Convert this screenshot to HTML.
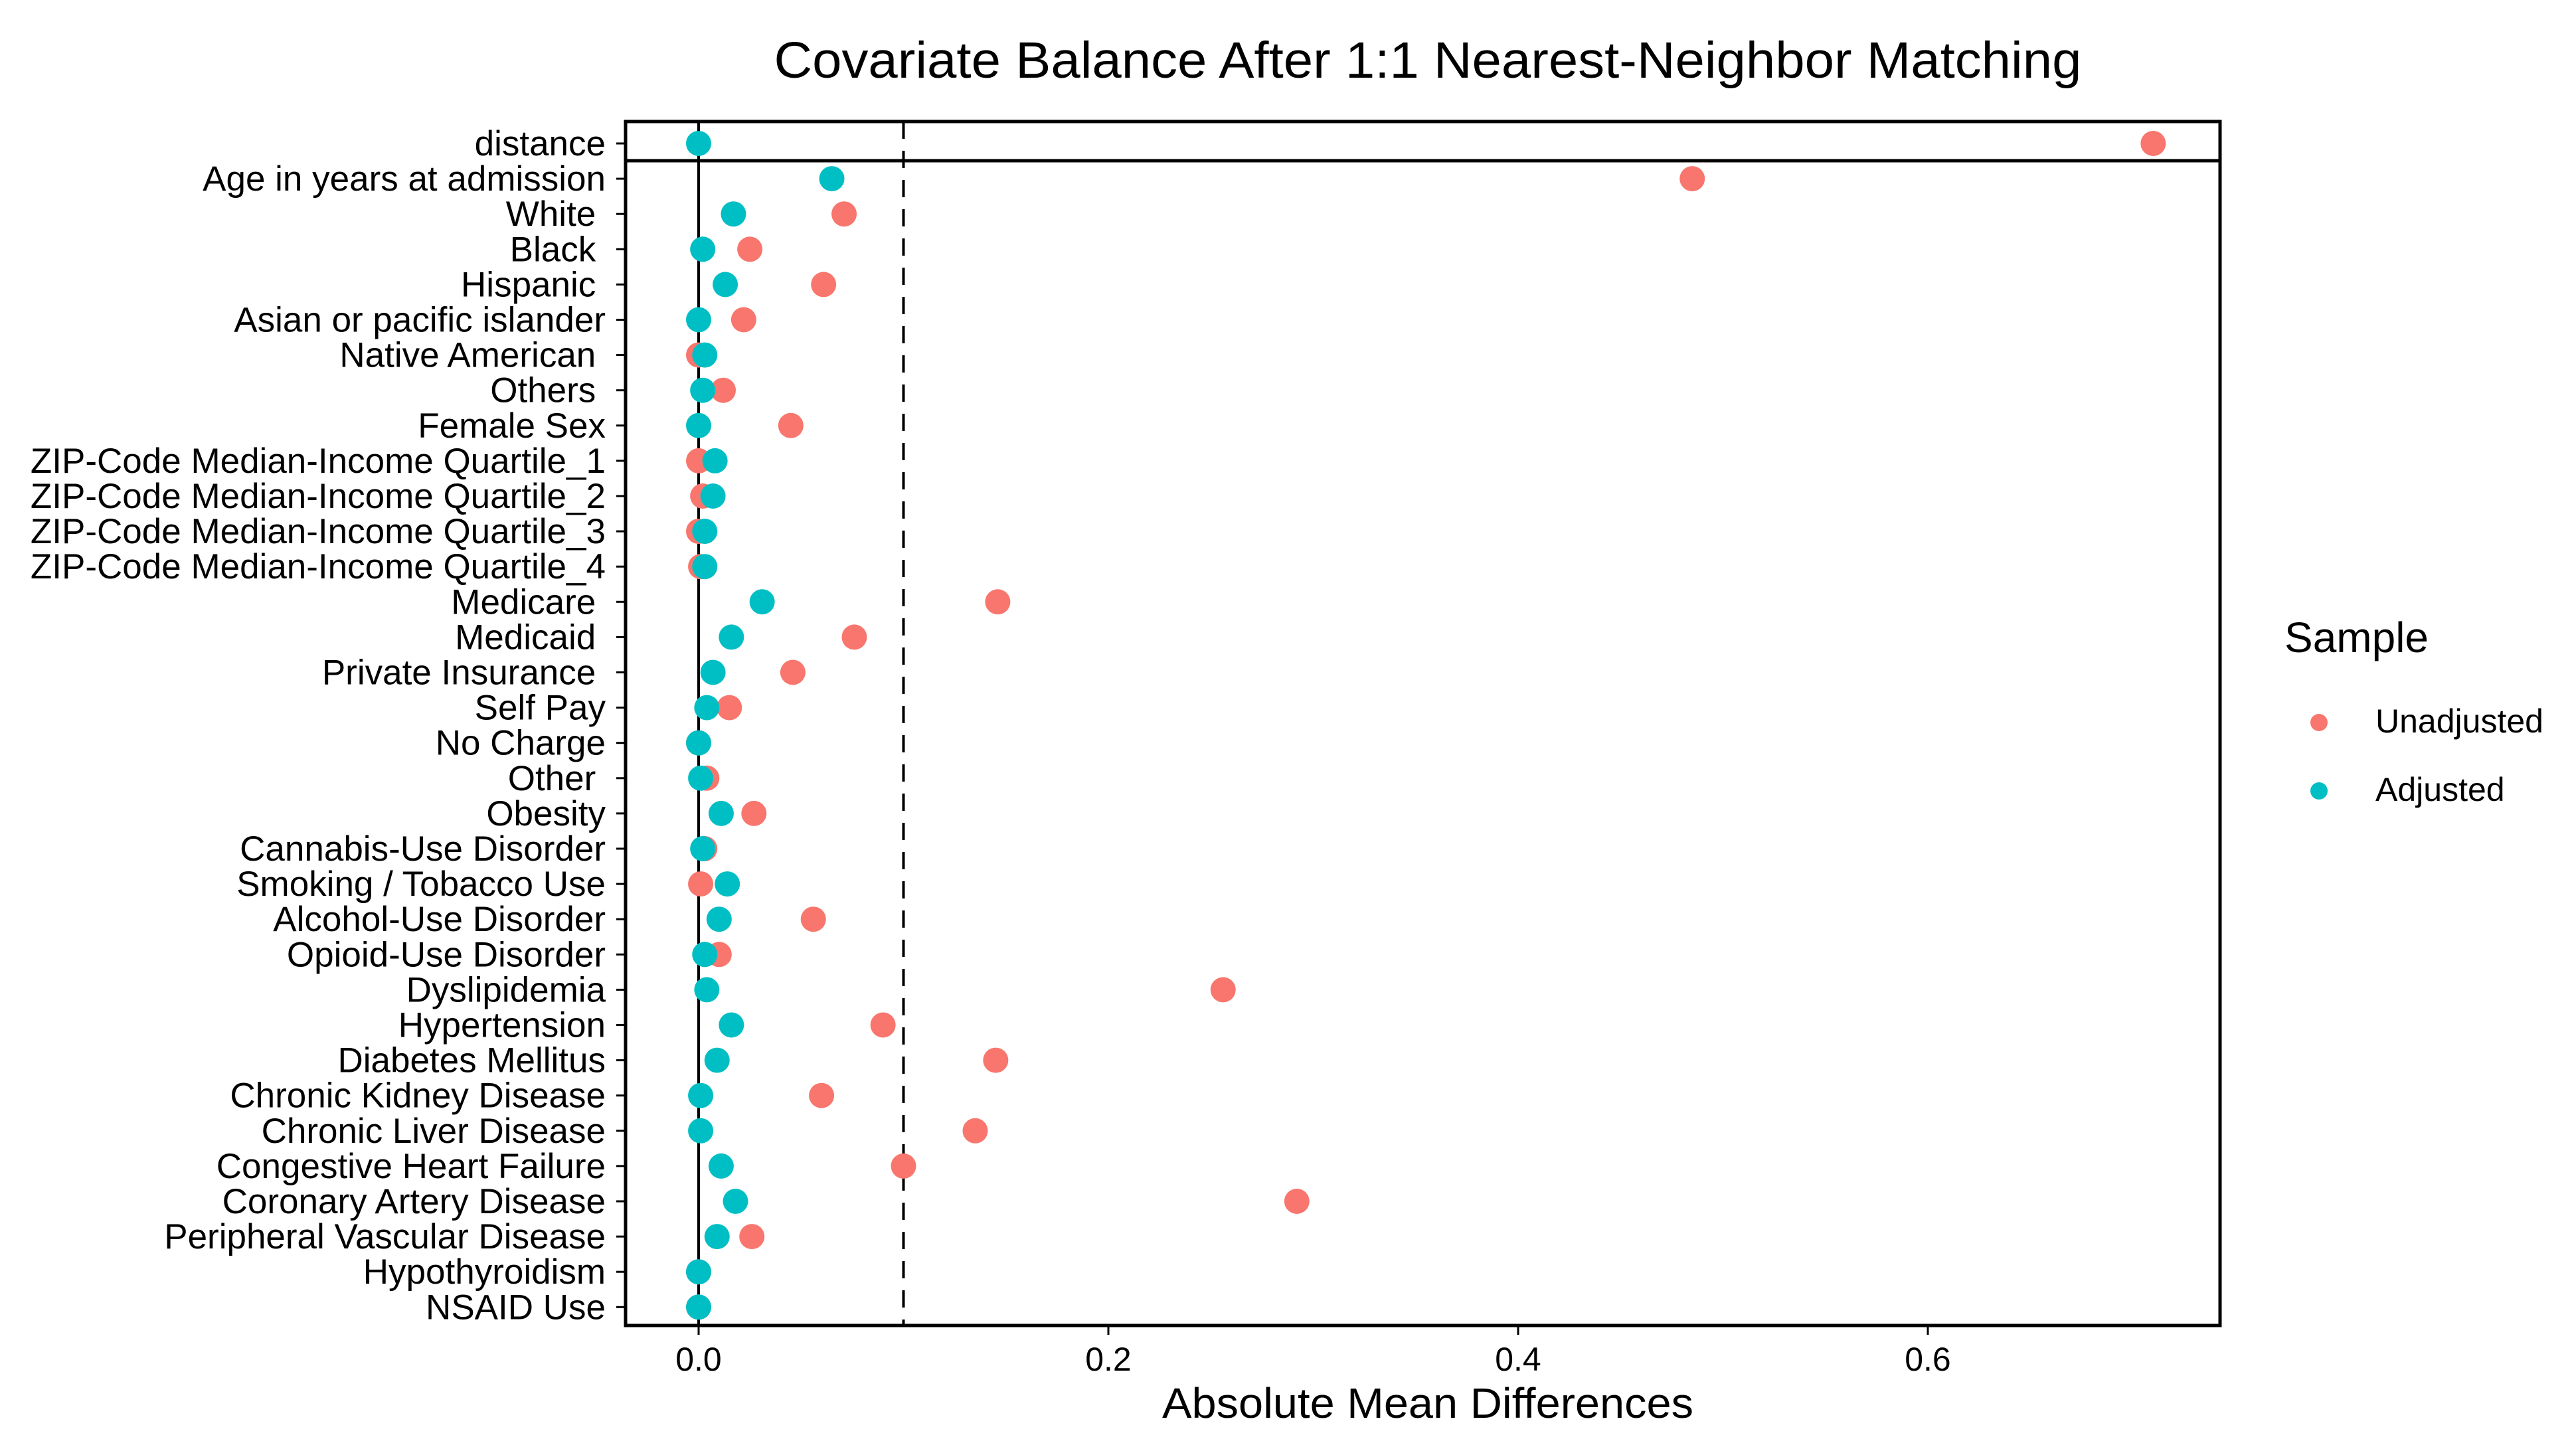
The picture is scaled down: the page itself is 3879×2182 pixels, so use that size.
<!DOCTYPE html>
<html><head><meta charset="utf-8"><style>
html,body{margin:0;padding:0;background:#fff;}
svg{display:block;font-family:"Liberation Sans",Arial,sans-serif;}
</style></head><body>
<svg id="chart" width="3879" height="2182" viewBox="0 0 3879 2182" xmlns="http://www.w3.org/2000/svg">
<rect x="0" y="0" width="3879" height="2182" fill="#fff"/>
<text x="2150" y="117" text-anchor="middle" font-size="77" textLength="1969" lengthAdjust="spacingAndGlyphs" fill="#000">Covariate Balance After 1:1 Nearest-Neighbor Matching</text>
<g id="plot"></g>
<text x="2150" y="2135" text-anchor="middle" font-size="64" textLength="800" lengthAdjust="spacingAndGlyphs" fill="#000">Absolute Mean Differences</text>
<g>
<text x="3440" y="982" font-size="64" fill="#000">Sample</text>
<circle cx="3492" cy="1088" r="13" fill="#F8766D"/>
<text x="3577" y="1103" font-size="50" fill="#000">Unadjusted</text>
<circle cx="3492" cy="1191" r="13" fill="#00BFC4"/>
<text x="3577" y="1206" font-size="50" fill="#000">Adjusted</text>
</g>
</svg>
<script>
const categories = ["distance","Age in years at admission","White ","Black ","Hispanic ","Asian or pacific islander","Native American ","Others ","Female Sex","ZIP-Code Median-Income Quartile_1","ZIP-Code Median-Income Quartile_2","ZIP-Code Median-Income Quartile_3","ZIP-Code Median-Income Quartile_4","Medicare ","Medicaid ","Private Insurance ","Self Pay","No Charge","Other ","Obesity","Cannabis-Use Disorder","Smoking / Tobacco Use","Alcohol-Use Disorder","Opioid-Use Disorder","Dyslipidemia","Hypertension","Diabetes Mellitus","Chronic Kidney Disease","Chronic Liver Disease","Congestive Heart Failure","Coronary Artery Disease","Peripheral Vascular Disease","Hypothyroidism","NSAID Use"];
const unadjusted = [0.710,0.485,0.071,0.025,0.061,0.022,0.000,0.012,0.045,0.000,0.002,0.000,0.001,0.146,0.076,0.046,0.015,0.000,0.004,0.027,0.003,0.001,0.056,0.010,0.256,0.090,0.145,0.060,0.135,0.100,0.292,0.026,0.000,0.000];
const adjusted = [0.000,0.065,0.017,0.002,0.013,0.000,0.003,0.002,0.000,0.008,0.007,0.003,0.003,0.031,0.016,0.007,0.004,0.000,0.001,0.011,0.002,0.014,0.010,0.003,0.004,0.016,0.009,0.001,0.001,0.011,0.018,0.009,0.000,0.000];
const xTicks = [0, 0.2, 0.4, 0.6];
const xTickLabels = ["0.0","0.2","0.4","0.6"];
const threshold = 0.1;

const NS = "http://www.w3.org/2000/svg";
const L = 942, R = 3343, T = 183, B = 1996, SEP = 242;
const x0 = 1052, perUnit = 3085;
const xs = v => x0 + v * perUnit;
const yTop = 216, step = 53.1;
const ys = i => yTop + i * step;
const g = document.getElementById('plot');
function mk(tag, attrs) { const e = document.createElementNS(NS, tag); for (const k in attrs) e.setAttribute(k, attrs[k]); g.appendChild(e); return e; }

let e;
e = mk('line', {x1: xs(0), x2: xs(0), y1: T, y2: B, stroke: '#000', 'stroke-width': 4});


e = mk('line', {x1: xs(threshold), x2: xs(threshold), y1: T, y2: B, stroke: '#000', 'stroke-width': 4, 'stroke-dasharray': '26 18'});



categories.forEach((c, i) => {
  const t = mk('text', {x: 912, y: ys(i) + 18, 'text-anchor': 'end', 'font-size': 53, fill: '#000', 'xml:space': 'preserve', style: 'white-space:pre'});
  t.textContent = c;
  
  
  const tk = mk('line', {x1: 928, x2: L, y1: ys(i), y2: ys(i), stroke: '#000', 'stroke-width': 3});
  
  
});

unadjusted.forEach((v, i) => {
  const p = mk('circle', {cx: xs(v), cy: ys(i), r: 19, fill: '#F8766D'});
  
  
});
adjusted.forEach((v, i) => {
  const p = mk('circle', {cx: xs(v), cy: ys(i), r: 19, fill: '#00BFC4'});
  
  
});

e = mk('rect', {x: L, y: T, width: R - L, height: B - T, fill: 'none', stroke: '#000', 'stroke-width': 5});


e = mk('line', {x1: L, x2: R, y1: SEP, y2: SEP, stroke: '#000', 'stroke-width': 5});



xTicks.forEach((v, i) => {
  const tk = mk('line', {x1: xs(v), x2: xs(v), y1: B, y2: B + 14, stroke: '#000', 'stroke-width': 3});
  
  
  const t = mk('text', {x: xs(v), y: B + 68, 'text-anchor': 'middle', 'font-size': 50, fill: '#000'});
  t.textContent = xTickLabels[i];
  
  
});
</script>
</body></html>
